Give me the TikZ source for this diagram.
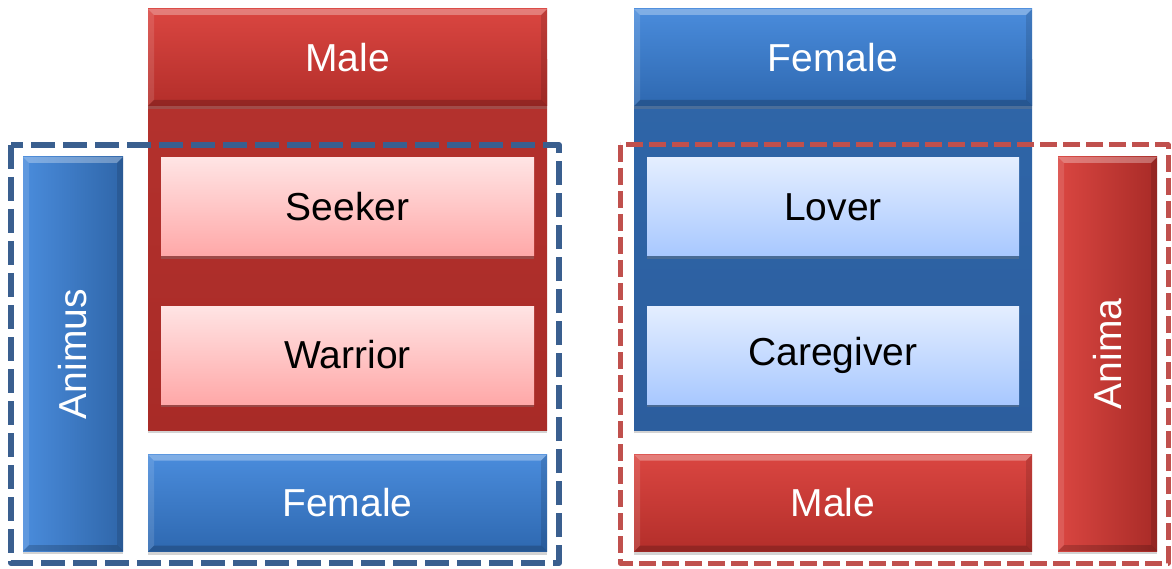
\documentclass[tikz,border=0pt]{standalone}
\usepackage{fontspec}
\setmainfont{Liberation Sans}
\usetikzlibrary{shadows}

\definecolor{redTop}{HTML}{DA4641}
\definecolor{redBot}{HTML}{B32E2A}
\definecolor{redPanel}{HTML}{B5322E}
\definecolor{redPanelBot}{HTML}{A82B27}
\definecolor{blueTop}{HTML}{4A8CDC}
\definecolor{blueBot}{HTML}{2E68B0}
\definecolor{bluePanel}{HTML}{2F66A9}
\definecolor{bluePanelBot}{HTML}{2C5E9E}
\definecolor{pinkTop}{HTML}{FFE4E4}
\definecolor{pinkBot}{HTML}{FFA8A8}
\definecolor{skyTop}{HTML}{E4EEFF}
\definecolor{skyBot}{HTML}{A8C8FF}
\definecolor{dashBlue}{HTML}{3A5F8F}
\definecolor{dashRed}{HTML}{C0504D}

\tikzset{
  base/.style={rectangle, inner sep=0pt, font=\fontsize{39}{44}\selectfont},
  % bevelled edges drawn inside the shaded rectangle
  bevel/.style={path picture={
    \fill[white, opacity=0.30]
      (path picture bounding box.north west) -- (path picture bounding box.north east)
      -- ([shift={(-6pt,-6pt)}]path picture bounding box.north east)
      -- ([shift={(6pt,-6pt)}]path picture bounding box.north west) -- cycle;
    \fill[white, opacity=0.12]
      (path picture bounding box.north west) -- (path picture bounding box.south west)
      -- ([shift={(6pt,6pt)}]path picture bounding box.south west)
      -- ([shift={(6pt,-6pt)}]path picture bounding box.north west) -- cycle;
    \fill[black, opacity=0.18]
      (path picture bounding box.south west) -- (path picture bounding box.south east)
      -- ([shift={(-6pt,6pt)}]path picture bounding box.south east)
      -- ([shift={(6pt,6pt)}]path picture bounding box.south west) -- cycle;
    \fill[black, opacity=0.12]
      (path picture bounding box.north east) -- (path picture bounding box.south east)
      -- ([shift={(-6pt,6pt)}]path picture bounding box.south east)
      -- ([shift={(-6pt,-6pt)}]path picture bounding box.north east) -- cycle;
  }},
  shade/.style={drop shadow={opacity=0.35, shadow xshift=0pt, shadow yshift=-3pt}},
  redbar/.style={base, top color=redTop, bottom color=redBot, text=white, bevel, shade},
  bluebar/.style={base, top color=blueTop, bottom color=blueBot, text=white, bevel, shade},
  redcol/.style={base, left color=redTop, right color=redPanelBot, text=white, bevel, shade,
    minimum width=99pt, minimum height=394pt},
  bluecol/.style={base, left color=blueTop, right color=bluePanel, text=white, bevel, shade,
    minimum width=100pt, minimum height=394pt},
  redpanel/.style={base, top color=redPanel, bottom color=redPanelBot, shade},
  bluepanel/.style={base, top color=bluePanel, bottom color=bluePanelBot, shade},
  pinkbox/.style={base, top color=pinkTop, bottom color=pinkBot, text=black, shade,
    minimum width=373pt, minimum height=98pt},
  skybox/.style={base, top color=skyTop, bottom color=skyBot, text=black, shade,
    minimum width=372pt, minimum height=98pt},
  headbar/.style={minimum width=399pt, minimum height=97pt},
  bluedash/.style={draw=dashBlue, line width=6pt, dash pattern=on 24pt off 8pt, line join=round},
  reddash/.style={draw=dashRed, line width=5pt, dash pattern=on 17pt off 6pt, line join=round}
}

\begin{document}
\begin{tikzpicture}[x=1pt, y=-1pt]
  \useasboundingbox (0,0) rectangle (1172,569);

  % left column: male archetypes
  \node[redpanel, minimum width=399pt, minimum height=370pt] (lpanel) at (347.5,245) {};
  \node[redbar, headbar] (lmale) at (347.5,57.5) {Male};
  \node[pinkbox] (seeker) at (347.5,207) {Seeker};
  \node[pinkbox] (warrior) at (347.5,355) {Warrior};
  \node[bluebar, headbar] (lfemale) at (347.5,503) {Female};
  \node[bluecol] (animus) at (73,354) {\rotatebox{90}{Animus}};

  % right column: female archetypes
  \node[bluepanel, minimum width=398pt, minimum height=370pt] (rpanel) at (833,245) {};
  \node[bluebar, headbar, minimum width=398pt] (rfemale) at (833,57.5) {Female};
  \node[skybox] (lover) at (833,207) {Lover};
  \node[skybox] (caregiver) at (833,355) {Caregiver};
  \node[redbar, headbar, minimum width=398pt] (rmale) at (833,503) {Male};
  \node[redcol] (anima) at (1107.5,354) {\rotatebox{90}{Anima}};

  % dashed groupings
  \draw[bluedash] (11,145) rectangle (559,563);
  \draw[reddash] (620,145) rectangle (1168,563);
\end{tikzpicture}
\end{document}
